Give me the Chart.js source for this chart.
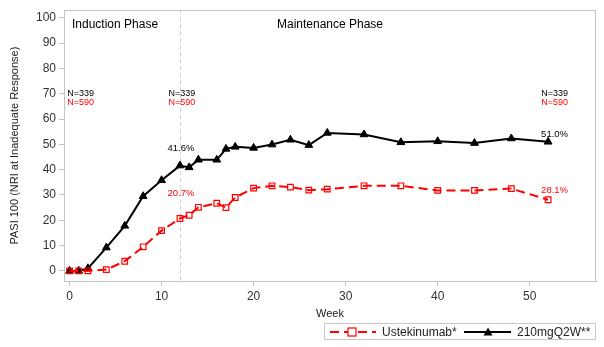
<!DOCTYPE html>
<html>
<head>
<meta charset="utf-8">
<script src="https://cdn.jsdelivr.net/npm/chart.js@4"></script>
<style>
  html, body { margin: 0; padding: 0; background: #fff; }
  #wrap { width: 604px; height: 347px; }
</style>
</head>
<body>
<div id="wrap"><canvas id="chart"></canvas></div>
<script>
const weeks = [0, 1, 2, 4, 6, 8, 10, 12, 13, 14, 16, 17, 18, 20, 22, 24, 26, 28, 32, 36, 40, 44, 48, 52];
const ustekinumab = [0, 0, 0, 0.5, 3.8, 9.5, 15.9, 20.7, 22, 25.1, 26.7, 25, 29, 32.7, 33.6, 33.1, 31.9, 32.3, 33.6, 33.6, 31.8, 31.8, 32.5, 28.1];
const q2w = [0, 0, 1, 9.2, 17.8, 29.5, 35.8, 41.6, 40.9, 43.9, 43.9, 48.2, 49, 48.6, 49.9, 51.8, 49.7, 54.5, 53.9, 50.8, 51.2, 50.5, 52.3, 51.0];
const xTicks = [0, 10, 20, 30, 40, 50];
const yTicks = [0, 10, 20, 30, 40, 50, 60, 70, 80, 90, 100];
const seriesNames = ["Ustekinumab*", "210mgQ2W**"];
const phaseBreak = 12;

// text notes placed in data units
const notes = [
  { x: 1.2, y: 70, text: "N=339", color: "#000", size: 9 },
  { x: 1.2, y: 66.5, text: "N=590", color: "#ff0000", size: 9 },
  { x: 12.2, y: 70, text: "N=339", color: "#000", size: 9 },
  { x: 12.2, y: 66.5, text: "N=590", color: "#ff0000", size: 9 },
  { x: 52.7, y: 70, text: "N=339", color: "#000", size: 9 },
  { x: 52.7, y: 66.5, text: "N=590", color: "#ff0000", size: 9 },
  { x: 12.1, y: 48.6, text: "41.6%", color: "#000", size: 9.5 },
  { x: 12.1, y: 30.6, text: "20.7%", color: "#ff0000", size: 9.5 },
  { x: 52.7, y: 54.1, text: "51.0%", color: "#000", size: 9.5 },
  { x: 52.7, y: 31.9, text: "28.1%", color: "#ff0000", size: 9.5 },
  { x: 10, y: 97.3, text: "Induction Phase", color: "#000", size: 12 },
  { x: 28.3, y: 97.3, text: "Maintenance Phase", color: "#000", size: 12 }
];

const FONT = "'Liberation Sans', Arial, sans-serif";
const frameColor = "#c3c3c3";

const extras = {
  id: "extras",
  beforeDatasetsDraw(chart) {
    const { ctx, chartArea: a, scales: { x } } = chart;
    const px = Math.round(x.getPixelForValue(phaseBreak)) + 0.5;
    ctx.save();
    ctx.strokeStyle = "#cfcfcf";
    ctx.lineWidth = 1;
    ctx.setLineDash([4, 3]);
    ctx.beginPath();
    ctx.moveTo(px, a.top);
    ctx.lineTo(px, a.bottom);
    ctx.stroke();
    ctx.restore();
  },
  afterDraw(chart) {
    const { ctx, chartArea: a, scales: { x, y } } = chart;
    ctx.save();
    // frame top / right
    ctx.strokeStyle = frameColor;
    ctx.lineWidth = 1;
    ctx.strokeRect(Math.round(a.left) + 0.5, Math.round(a.top) + 0.5,
      Math.round(a.right - a.left) - 1, Math.round(a.bottom - a.top));

    ctx.textBaseline = "middle";
    ctx.textAlign = "center";
    notes.forEach(n => {
      ctx.font = n.size + "px " + FONT;
      ctx.fillStyle = n.color;
      let tx = x.getPixelForValue(n.x);
      if (n.size === 12 && n.text.startsWith("Induction")) {
        ctx.textAlign = "left";
        tx = a.left + 8;
      } else {
        ctx.textAlign = "center";
      }
      ctx.fillText(n.text, tx, y.getPixelForValue(n.y));
    });

    // legend
    const ly = 332;
    ctx.strokeStyle = "#c8c8c8";
    ctx.lineWidth = 1;
    ctx.strokeRect(324.5, 323.5, 271, 16);

    ctx.strokeStyle = "#ff0000";
    ctx.lineWidth = 2;
    ctx.setLineDash([9, 5]);
    ctx.beginPath();
    ctx.moveTo(330, ly);
    ctx.lineTo(376, ly);
    ctx.stroke();
    ctx.setLineDash([]);
    ctx.lineWidth = 1.2;
    ctx.fillStyle = "#fff";
    ctx.fillRect(348, ly - 4, 8, 8);
    ctx.strokeRect(348, ly - 4, 8, 8);

    ctx.strokeStyle = "#000";
    ctx.lineWidth = 2;
    ctx.beginPath();
    ctx.moveTo(464, ly);
    ctx.lineTo(511, ly);
    ctx.stroke();
    ctx.fillStyle = "#000";
    ctx.beginPath();
    ctx.moveTo(488, ly - 4.5);
    ctx.lineTo(492.5, ly + 3.5);
    ctx.lineTo(483.5, ly + 3.5);
    ctx.closePath();
    ctx.fill();

    ctx.font = "12px " + FONT;
    ctx.fillStyle = "#222";
    ctx.textAlign = "left";
    ctx.fillText(seriesNames[0], 382, ly + 0.5);
    ctx.fillText(seriesNames[1], 517, ly + 0.5);
    ctx.restore();
  }
};

const axisGrid = {
  display: true,
  drawOnChartArea: false,
  drawTicks: true,
  tickLength: 5,
  color: frameColor
};

new Chart(document.getElementById("chart"), {
  type: "line",
  data: {
    datasets: [
      {
        label: seriesNames[0],
        data: weeks.map((w, i) => ({ x: w, y: ustekinumab[i] })),
        borderColor: "#ff0000",
        borderWidth: 2,
        borderDash: [9, 5],
        pointStyle: "rect",
        pointRadius: 4,
        pointBorderWidth: 1.2,
        pointBorderColor: "#ff0000",
        pointBackgroundColor: "rgba(255,255,255,0)",
        tension: 0
      },
      {
        label: seriesNames[1],
        data: weeks.map((w, i) => ({ x: w, y: q2w[i] })),
        borderColor: "#000",
        borderWidth: 2,
        pointStyle: "triangle",
        pointRadius: 4.5,
        pointBorderWidth: 1,
        pointBorderColor: "#000",
        pointBackgroundColor: "#000",
        tension: 0
      }
    ]
  },
  options: {
    responsive: true,
    maintainAspectRatio: false,
    animation: false,
    devicePixelRatio: 1,
    layout: { padding: { top: 8, right: 8, left: 8, bottom: 26 } },
    plugins: {
      legend: { display: false },
      tooltip: { enabled: false }
    },
    scales: {
      x: {
        type: "linear",
        min: -0.6,
        max: 57.2,
        afterBuildTicks: s => { s.ticks = xTicks.map(v => ({ value: v })); },
        afterFit: s => { s.height = 40; },
        grid: axisGrid,
        border: { display: true, color: frameColor },
        ticks: { font: { size: 12, family: FONT }, color: "#333", padding: 3, maxRotation: 0 },
        title: { display: true, text: "Week", font: { size: 11, family: FONT }, color: "#222", padding: { top: 4, bottom: 0 } }
      },
      y: {
        min: -4,
        max: 103,
        afterBuildTicks: s => { s.ticks = yTicks.map(v => ({ value: v })); },
        afterFit: s => { s.width = 56; },
        grid: axisGrid,
        border: { display: true, color: frameColor },
        ticks: { font: { size: 12, family: FONT }, color: "#333", padding: 3 },
        title: { display: true, text: "PASI 100 (NRI at Inadequate Response)", font: { size: 11, family: FONT }, color: "#222", padding: { top: 0, bottom: 4 } }
      }
    }
  },
  plugins: [extras]
});
</script>
</body>
</html>
